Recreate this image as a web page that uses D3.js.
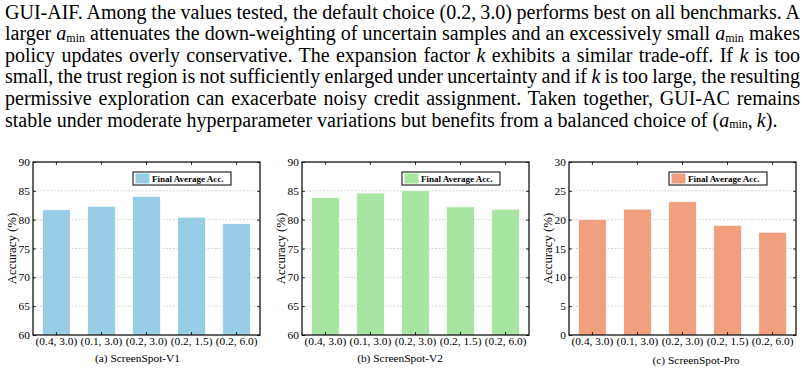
<!DOCTYPE html>
<html>
<head>
<meta charset="utf-8">
<script src="https://cdn.jsdelivr.net/npm/d3@7/dist/d3.min.js"></script>
<style>
  body { margin: 0; background: #fff; }
  svg { display: block; }
</style>
</head>
<body>
<div id="fig"></div>
<script>
// hyperparameter settings (a_min, k) on x axis
const settings = ["(0.4, 3.0)", "(0.1, 3.0)", "(0.2, 3.0)", "(0.2, 1.5)", "(0.2, 6.0)"];
const v1Acc = [81.7, 82.3, 84.0, 80.4, 79.3];
const v2Acc = [83.8, 84.6, 85.0, 82.2, 81.8];
const proAcc = [20.0, 21.8, 23.1, 19.0, 17.8];
const captions = ["(a) ScreenSpot-V1", "(b) ScreenSpot-V2", "(c) ScreenSpot-Pro"];
const yTicksV = [60, 65, 70, 75, 80, 85, 90];
const yTicksPro = [0, 5, 10, 15, 20, 25, 30];
const legendLabel = "Final Average Acc.";

// paragraph above the figure, segments: [text, style]
const paraLines = [
  [["GUI-AIF. Among the values tested, the default choice ", "n"], ["(0.2,\u20093.0)", "m"], [" performs best on all benchmarks. A", "n"]],
  [["larger ", "n"], ["a", "i"], ["min", "sub"], [" attenuates the down-weighting of uncertain samples and an excessively small ", "n"], ["a", "i"], ["min", "sub"], [" makes", "n"]],
  [["policy updates overly conservative. The expansion factor ", "n"], ["k", "i"], [" exhibits a similar trade-off. If ", "n"], ["k", "i"], [" is too", "n"]],
  [["small, the trust region is not sufficiently enlarged under uncertainty and if ", "n"], ["k", "i"], [" is too large, the resulting", "n"]],
  [["permissive exploration can exacerbate noisy credit assignment. Taken together, GUI-AC remains", "n"]],
  [["stable under moderate hyperparameter variations but benefits from a balanced choice of ", "n"], ["(", "m"], ["a", "i"], ["min", "sub"], [",\u2009", "m"], ["k", "i"], [").", "m"]]
];

const W = 805, H = 390;
const serif = "'Liberation Serif', 'Times New Roman', serif";
const svg = d3.select("#fig").append("svg")
  .attr("width", W).attr("height", H)
  .style("font-family", serif);

// ---- paragraph ----
const paraLeft = 5, paraRight = 800, paraSize = 20, baseY = 18.5, lineGap = 21.6;
const subSize = 12, subDrop = 1.8;
paraLines.forEach((segs, li) => {
  const t = svg.append("text")
    .attr("x", paraLeft).attr("y", baseY + li * lineGap)
    .attr("font-size", paraSize)
    .attr("fill", "#000")
    .style("white-space", "pre");
  let shifted = false;
  segs.forEach(([txt, st]) => {
    const ts = t.append("tspan").text(txt);
    if (st === "i") ts.attr("font-style", "italic");
    if (st === "sub") {
      ts.attr("font-size", subSize).attr("dy", subDrop);
      shifted = true;
    } else if (shifted) {
      ts.attr("dy", -subDrop);
      shifted = false;
    }
  });
  // justify every line except the last one
  if (li < paraLines.length - 1) {
    const natural = t.node().getComputedTextLength();
    const nSpaces = segs.map(s => s[0]).join("").split(" ").length - 1;
    const extra = ((paraRight - paraLeft) - natural) / nSpaces;
    t.style("word-spacing", extra + "px");
  }
});

// ---- bar panels ----
const plotTop = 162, plotBottom = 335;
const panels = [
  { left: 33, right: 260, values: v1Acc, color: "#98CDE5", ticks: yTicksV, capX: 137.5, capY: 362 },
  { left: 302, right: 529, values: v2Acc, color: "#A8E4A2", ticks: yTicksV, capX: 400, capY: 362 },
  { left: 569, right: 796, values: proAcc, color: "#F0A07F", ticks: yTicksPro, capX: 696, capY: 364 }
];

panels.forEach((p, pi) => {
  const g = svg.append("g");
  const x = d3.scaleBand().domain(settings).range([p.left, p.right])
    .paddingInner(0.39).paddingOuter(0.215);
  const y = d3.scaleLinear().domain(d3.extent(p.ticks)).range([plotBottom, plotTop]);

  // grid
  g.selectAll(".grid").data(p.ticks.slice(1, -1)).enter().append("line")
    .attr("x1", p.left).attr("x2", p.right)
    .attr("y1", d => y(d)).attr("y2", d => y(d))
    .attr("stroke", "#c8c8c8").attr("stroke-width", 0.8)
    .attr("stroke-dasharray", "2,1.5");

  // bars
  g.selectAll(".bar").data(p.values).enter().append("rect")
    .attr("x", (d, i) => x(settings[i]))
    .attr("width", x.bandwidth())
    .attr("y", d => y(d))
    .attr("height", d => y(y.domain()[0]) - y(d))
    .attr("fill", p.color)
    .attr("stroke", "#fff").attr("stroke-width", 0.5);

  // axes (ticks pointing inward)
  const yl = g.append("g").attr("transform", `translate(${p.left},0)`)
    .call(d3.axisLeft(y).tickValues(p.ticks).tickSize(-3).tickPadding(3));
  const yr = g.append("g").attr("transform", `translate(${p.right},0)`)
    .call(d3.axisRight(y).tickValues(p.ticks).tickSize(-3).tickFormat(""));
  const xb = g.append("g").attr("transform", `translate(0,${plotBottom})`)
    .call(d3.axisBottom(x).tickSize(-3).tickPadding(1.5));
  const xt = g.append("g").attr("transform", `translate(0,${plotTop})`)
    .call(d3.axisTop(x).tickSize(-3).tickFormat(""));
  [yl, yr, xb, xt].forEach(a => {
    a.select(".domain").remove();
    a.selectAll("line").attr("stroke", "#000").attr("stroke-width", 0.8);
    a.selectAll("text").attr("font-size", 11.4).attr("fill", "#000")
      .attr("font-family", serif);
  });

  // frame
  g.append("rect")
    .attr("x", p.left).attr("y", plotTop)
    .attr("width", p.right - p.left).attr("height", plotBottom - plotTop)
    .attr("fill", "none").attr("stroke", "#000").attr("stroke-width", 1.2);

  // y label
  g.append("text")
    .attr("transform", `translate(${p.left - 21},${(plotTop + plotBottom) / 2}) rotate(-90)`)
    .attr("text-anchor", "middle").attr("dominant-baseline", "central")
    .attr("font-size", 12.8).text("Accuracy (%)");

  // legend
  const lx = p.right - 29 - 98, ly = plotTop + 10;
  g.append("rect").attr("x", lx).attr("y", ly).attr("width", 98).attr("height", 13)
    .attr("fill", "#fff").attr("stroke", "#000").attr("stroke-width", 1);
  g.append("rect").attr("x", lx + 2.5).attr("y", ly + 1.5).attr("width", 14).attr("height", 10)
    .attr("fill", p.color);
  g.append("text").attr("x", lx + 19).attr("y", ly + 9.6)
    .attr("font-size", 9).attr("font-weight", "bold").text(legendLabel);

  // caption
  g.append("text").attr("x", p.capX).attr("y", p.capY)
    .attr("text-anchor", "middle").attr("font-size", 11.4).text(captions[pi]);
});
</script>
</body>
</html>
